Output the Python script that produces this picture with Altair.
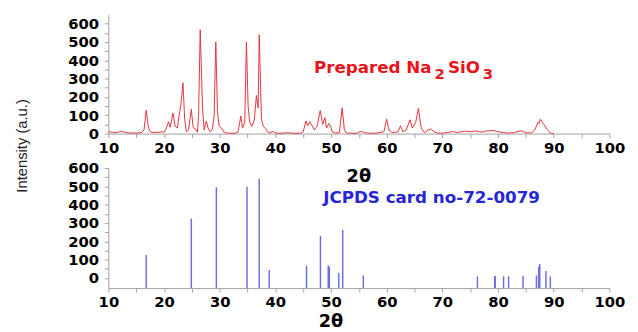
import altair as alt
import pandas as pd

# ---- data ----
theta_prep = [10.0, 10.5, 11.0, 11.5, 12.0, 12.4, 12.8, 13.5, 14.5, 15.5, 16.0, 16.4, 16.8, 17.2, 17.6,
              18.0, 18.5, 19.0, 19.5, 20.0, 20.3, 20.8, 21.1, 21.6, 22.0, 22.4, 22.8, 23.0, 23.4, 23.7,
              24.0, 24.4, 24.9, 25.2, 25.5, 25.8, 26.0, 26.2, 26.5, 26.9, 27.2, 27.6, 27.9, 28.3, 28.7,
              29.0, 29.3, 29.6, 29.9, 30.3, 30.7, 31.2, 32.0, 32.8, 33.3, 33.8, 34.1, 34.5, 34.8, 35.1,
              35.4, 35.8, 36.2, 36.6, 36.9, 37.1, 37.5, 37.8, 38.2, 38.6, 39.0, 39.6, 40.0, 41.0, 42.3,
              43.0, 44.5, 45.0, 45.5, 45.8, 46.2, 46.6, 47.0, 47.5, 48.06, 48.5, 48.9, 49.2, 49.6, 49.9,
              50.2, 50.8, 51.5, 52.0, 52.4, 52.8, 53.5, 54.5, 55.0, 55.5, 56.0, 57.0, 58.0, 59.5, 60.0,
              60.4, 61.0, 62.0, 62.5, 62.9, 63.5, 64.2, 64.6, 65.2, 65.7, 66.2, 66.8, 67.5, 67.9, 68.5,
              69.2, 70.0, 71.0, 72.0, 72.5, 73.0, 74.0, 75.0, 76.0, 77.0, 78.0, 79.3, 80.0, 81.0, 82.0,
              83.0, 84.1, 85.0, 86.0, 86.6, 87.2, 87.4, 87.6, 88.0, 88.8, 89.4, 90.0]
inten_prep = [10, 8, 6, 5, 10, 14, 8, 4, 3, 4, 6, 20, 128, 30, 8,
              5, 8, 6, 10, 8, 20, 64, 35, 112, 40, 30, 120, 150, 277, 80,
              10, 20, 133, 40, 25, 20, 8, 100, 567, 150, 20, 69, 30, 10, 25,
              100, 500, 120, 42, 30, 10, 3, 2, 2, 10, 96, 30, 60, 500, 150,
              60, 40, 70, 208, 140, 540, 80, 42, 30, 10, 5, 12, 3, 2, 5,
              2, 2, 10, 69, 43, 65, 43, 20, 40, 126, 50, 87, 30, 55, 43,
              10, 3, 5, 140, 20, 3, 2, 1, 8, 12, 5, 2, 2, 10, 78,
              20, 5, 10, 43, 10, 20, 75, 30, 60, 137, 30, 5, 20, 25, 10,
              2, 3, 6, 12, 6, 8, 14, 10, 15, 8, 15, 16, 10, 5, 3,
              6, 16, 5, 4, 20, 62, 55, 78, 60, 25, 2, 0]

theta_card = [16.8, 24.9, 29.4, 34.9, 37.1, 38.9, 45.6, 48.1, 49.5, 49.7, 51.4, 52.1, 55.8,
              76.3, 79.4, 79.5, 81.0, 81.9, 84.5, 86.9, 87.3, 87.4, 87.5, 88.6, 89.4]
inten_card = [125, 324, 495, 498, 541, 44, 67, 230, 68, 60, 27, 262, 14,
              9, 12, 10, 9, 9, 12, 14, 62, 40, 76, 39, 9]

x_ticks = list(range(10, 101, 5))
y_ticks = list(range(0, 601, 50))

FONT = "DejaVu Sans"
W = 509
H1 = 121
H2 = 122
AX = "#a0a0a0"

common_axis = dict(labelFont=FONT, labelFontWeight="bold", labelFontSize=15, labelColor="black",
                   labelOverlap=False, tickCount=200, tickSize=4, tickColor=AX, domainColor=AX,
                   grid=False, format="d")

def x_axis():
    return alt.Axis(values=x_ticks, labelExpr="datum.value % 10 == 0 ? datum.label : ''",
                    labelFlush=False, labelPadding=3, title=None, **common_axis)

def y_axis(**kw):
    return alt.Axis(values=y_ticks, labelExpr="datum.value % 100 == 0 ? datum.label : ''",
                    labelPadding=6, **common_axis, **kw)

xs = alt.Scale(domain=[10, 100], nice=False, zero=False)

prep = pd.DataFrame({"theta": theta_prep, "I": inten_prep})
card = pd.DataFrame({"theta": theta_card, "I": inten_card})
one = pd.DataFrame({"k": [0]})

top_line = alt.Chart(prep).mark_line(color="#e2343c", strokeWidth=1).encode(
    x=alt.X("theta:Q", scale=xs, axis=x_axis()),
    y=alt.Y("I:Q", scale=alt.Scale(domain=[0, 650], nice=False),
            axis=y_axis(title="Intensity (a.u.)", titleFont="Liberation Sans", titleFontSize=15,
                        titleFontWeight="normal", titleColor="#222222", titleX=-88, titleY=133,
                        titleBaseline="middle", titleAlign="center")),
)

def label(txt, x, y, size, color, baseline="alphabetic"):
    return alt.Chart(one).mark_text(text=txt, font=FONT, fontWeight="bold", fontSize=size,
                                    color=color, align="center", baseline=baseline).encode(
        x=alt.datum(x), y=alt.datum(y))

RED = "#e8141c"
top = alt.layer(
    top_line,
    label("Prepared Na", 57.5, 332, 17, RED),
    label("2", 69.5, 300, 15, RED),
    label("SiO", 73.9, 332, 17, RED),
    label("3", 78.2, 300, 15, RED),
    label("2θ", 55.0, -236, 18, "black", "middle"),
).properties(width=W, height=H1)

sticks = alt.Chart(card).mark_rule(color="#6f6fdc", strokeWidth=1.5).encode(
    x=alt.X("theta:Q", scale=xs, axis=x_axis()),
    y=alt.Y("I:Q", scale=alt.Scale(domain=[-55, 600], nice=False), axis=y_axis(title=None)),
    y2=alt.value(H2),
)

bottom = alt.layer(
    sticks,
    label("JCPDS card no-72-0079", 68.06, 408, 17, "#2626d6"),
    label("2θ", 50.0, -240, 18, "black", "middle"),
).properties(width=W, height=H2)

chart = alt.vconcat(top, bottom, spacing=35, bounds="flush").properties(
    padding={"left": 6, "top": 4, "right": 5, "bottom": 0}
).configure_view(stroke=None)

chart.save("out.html", embed_options={"renderer": "svg", "actions": False})
